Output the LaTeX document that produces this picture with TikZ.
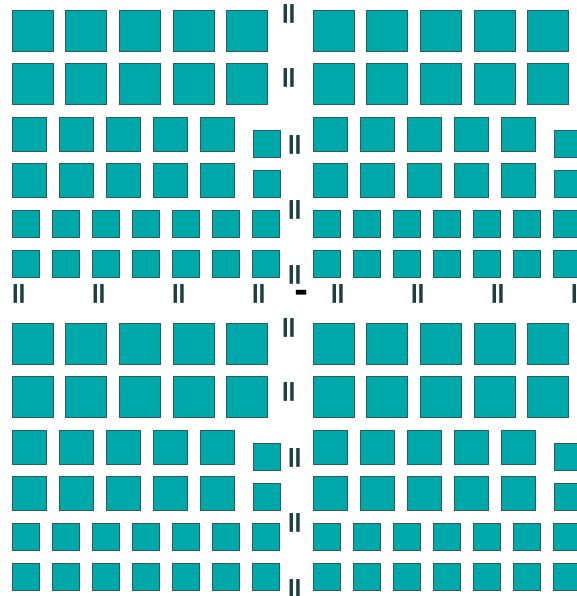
\documentclass[tikz,border=0pt]{standalone}
\usepackage{fontspec}
\setmainfont{DejaVu Sans}
\usetikzlibrary{calc}
\definecolor{tealfill}{HTML}{00A9A9}
\definecolor{tealedge}{HTML}{2E5C5C}
\definecolor{barink}{HTML}{1C3F3F}

% one tile of squares, top-left corner at (#1,#2)
\newcommand{\drawtile}[2]{%
  \begin{scope}[shift={(#1,#2)}]
    \foreach \i in {0,...,4} {
      \draw[sqbox] ({\i*53.7},0) rectangle ++(41,41);
      \draw[sqbox] ({\i*53.7},53) rectangle ++(41,41);
      \draw[sqbox] ({\i*47},107) rectangle ++(34,34);
      \draw[sqbox] ({\i*47},153) rectangle ++(34,34);
    }
    \draw[sqbox] (241,120) rectangle ++(27,27);
    \draw[sqbox] (241,160) rectangle ++(27,27);
    \foreach \i in {0,...,6} {
      \draw[sqbox] ({\i*40},200) rectangle ++(27,27);
      \draw[sqbox] ({\i*40},240) rectangle ++(27,27);
    }
  \end{scope}}

% the signs right of a tile: #1 name prefix
\newcommand{\tilesigns}[3]{%
  \begin{scope}[shift={(#2,#3)}]
    \node[eqsign] (#1-r1) at (279,4) {=};
    \node[eqsign] (#1-r2) at (279,68) {=};
    \node[eqsign] (#1-r3) at (285,134.5) {=};
    \node[eqsign] (#1-r5) at (285,199.5) {=};
    \node[eqsign] (#1-r6) at (285,265) {=};
  \end{scope}}

\begin{document}
\begin{tikzpicture}[x=1pt,y=-1pt,
  sqbox/.style={fill=tealfill,draw=tealedge,line width=0.8pt},
  eqsign/.style={rotate=90,text=barink,inner sep=0pt,
    font=\bfseries\fontsize{30}{30}\selectfont},
  minus/.style={text=black,inner sep=0pt,
    font=\bfseries\fontsize{34}{34}\selectfont}]
  \useasboundingbox (0,0) rectangle (577,596);
  \clip (0,0) rectangle (577,596);
  \drawtile{12}{10}
  \drawtile{313}{10}
  \drawtile{12}{323.5}
  \drawtile{313}{323.5}
  \tilesigns{top}{12}{10}
  \tilesigns{bot}{12}{323.5}
  % row of signs between the halves
  \foreach \k in {0,...,7}
    \node[eqsign] (mid-\k) at ({21.5+79.8*\k},294) {=};
  \node[minus] (mid-dash) at (302,296.5) {-};
\end{tikzpicture}
\end{document}
